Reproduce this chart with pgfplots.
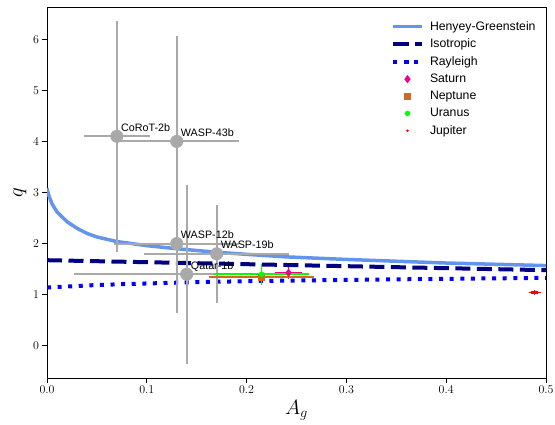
\documentclass[border=0pt]{standalone}
\usepackage{pgfplots}
\pgfplotsset{compat=1.18}
\usepackage{fontspec}
\newfontfamily\lsans{Liberation Sans}
\definecolor{hg}{HTML}{6495ED}
\definecolor{navyc}{HTML}{000080}
\definecolor{grayc}{HTML}{A9A9A9}
\definecolor{choc}{HTML}{D2691E}
\definecolor{limec}{HTML}{00FF00}
\begin{document}
\begin{tikzpicture}
\begin{axis}[
  at={(0,0)}, anchor=south west,
  scale only axis, width=499bp, height=371bp,
  xmin=0, xmax=0.5, ymin=-0.63, ymax=6.63,
  xtick={0,0.1,0.2,0.3,0.4,0.5},
  ytick={0,1,2,3,4,5,6},
  x tick label style={/pgf/number format/.cd, fixed, fixed zerofill, precision=1},
  tick align=outside, tick pos=left,
  major tick length=4.5bp,
  tick style={black, line width=0.8bp},
  axis line style={line width=0.8bp},
  ticklabel style={font=\fontsize{13}{15}\selectfont},
  xlabel={$A_g$}, ylabel={$q$},
  label style={font=\fontsize{20}{24}\selectfont},
  legend cell align=left,
  legend image code/.code={\draw[mark repeat=2,mark phase=2,#1] plot coordinates {(0bp,0bp) (14.5bp,0bp) (29bp,0bp)};},
  legend style={at={(rel axis cs:0.689,0.967)}, anchor=north west, draw=none, fill=none,
    inner sep=0pt, row sep=3.2bp, column sep=4bp,
    font=\lsans\fontsize{12.3}{14}\selectfont},
]
% Henyey-Greenstein
\addplot[hg, line width=3.5bp, line join=round] coordinates {
(0.000,3.08) (0.002,2.93) (0.005,2.78) (0.010,2.62) (0.020,2.43) (0.030,2.30)
(0.040,2.20) (0.050,2.13) (0.070,2.04) (0.100,1.96) (0.130,1.90) (0.170,1.83)
(0.200,1.79) (0.240,1.74) (0.300,1.69) (0.357,1.65) (0.400,1.62) (0.450,1.595) (0.500,1.57)};
\addlegendentry{Henyey-Greenstein}
% Isotropic
\addplot[navyc, line width=4bp, line cap=butt, dash pattern=on 15bp off 6.5bp] coordinates {
(0.0,1.675) (0.1,1.636) (0.2,1.597) (0.3,1.558) (0.4,1.519) (0.5,1.48)};
\addlegendentry{Isotropic}
% Rayleigh
\addplot[blue, line width=4bp, line cap=butt, dash pattern=on 4bp off 6.6bp] coordinates {
(0.0,1.14) (0.05,1.19) (0.1,1.22) (0.15,1.245) (0.2,1.265) (0.3,1.29) (0.4,1.31) (0.5,1.33)};
\addlegendentry{Rayleigh}
% exoplanets: error bars
\addplot[forget plot, draw=none, mark=none,
  error bars/.cd, x dir=both, x explicit, y dir=both, y explicit,
  error bar style={line width=1.8bp, grayc},
  error mark options={line width=1.8bp, mark size=2.8bp, grayc}]
coordinates {
(0.07,4.1) +- (0.03,2.2)
(0.13,4.0) +- (0.06,2.0)
(0.13,2.0) +- (0.06,1.3)
(0.17,1.8) +- (0.07,0.9)
(0.14,1.4) +- (0.11,1.7)};
% exoplanets: markers
\addplot[forget plot, only marks, mark=*, mark size=6.3bp, mark options={fill=grayc, draw=grayc}]
coordinates {(0.07,4.1) (0.13,4.0) (0.13,2.0) (0.17,1.8) (0.14,1.4)};
\begin{scope}[font=\lsans\fontsize{10.8}{13}\selectfont]
\node[anchor=base west, inner sep=0pt, xshift=4bp, yshift=5bp] at (axis cs:0.07,4.1) {CoRoT-2b};
\node[anchor=base west, inner sep=0pt, xshift=4bp, yshift=5bp] at (axis cs:0.13,4.0) {WASP-43b};
\node[anchor=base west, inner sep=0pt, xshift=4bp, yshift=5bp] at (axis cs:0.13,2.0) {WASP-12b};
\node[anchor=base west, inner sep=0pt, xshift=4bp, yshift=5bp] at (axis cs:0.17,1.8) {WASP-19b};
\node[anchor=base west, inner sep=0pt, xshift=4bp, yshift=5bp] at (axis cs:0.14,1.4) {Qatar-1b};
\end{scope}
% Solar System planets
\addplot[only marks, mark=diamond*, mark size=3.8bp, color=magenta,
  error bars/.cd, x dir=both, x explicit, y dir=both, y explicit,
  error bar style={line width=1.5bp, magenta},
  error mark options={line width=1.5bp, mark size=2.5bp, magenta}]
coordinates {(0.242,1.43) +- (0.0115,0.07)};
\addlegendentry{Saturn}
\addplot[only marks, mark=square*, mark size=3bp, color=choc,
  error bars/.cd, x dir=both, x explicit, y dir=both, y explicit,
  error bar style={line width=1.8bp, choc},
  error mark options={line width=1.8bp, mark size=2.5bp, choc}]
coordinates {(0.215,1.35) +- (0.05,0.12)};
\addlegendentry{Neptune}
\addplot[only marks, mark=*, mark size=2.5bp, color=limec,
  error bars/.cd, x dir=both, x explicit, y dir=both, y explicit,
  error bar style={line width=1.8bp, limec},
  error mark options={line width=1.8bp, mark size=2.5bp, limec}]
coordinates {(0.215,1.40) +- (0.045,0.15)};
\addlegendentry{Uranus}
\addplot[only marks, mark=*, mark size=1bp, color=red,
  error bars/.cd, x dir=both, x explicit, y dir=both, y explicit,
  error bar style={line width=3bp, red},
  error mark options={line width=1.5bp, mark size=2.5bp, red}]
coordinates {(0.4887,1.04) +- (0.0035,0.005)};
\addlegendentry{Jupiter}
\end{axis}
\pgfresetboundingbox
\path[use as bounding box] (-47bp,-47bp) rectangle (508bp,378bp);
\end{tikzpicture}
\end{document}
